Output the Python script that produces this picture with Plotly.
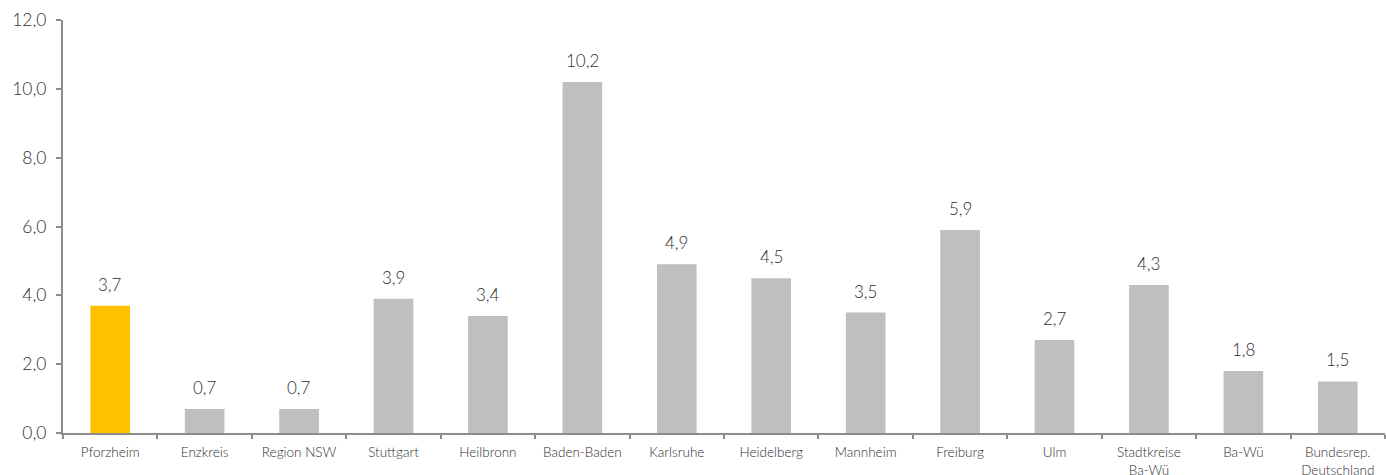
import plotly.graph_objects as go

categories = ["Pforzheim", "Enzkreis", "Region NSW", "Stuttgart", "Heilbronn",
              "Baden-Baden", "Karlsruhe", "Heidelberg", "Mannheim", "Freiburg",
              "Ulm", "Stadtkreise<br>Ba-Wü", "Ba-Wü", "Bundesrep.<br>Deutschland"]
values = [3.7, 0.7, 0.7, 3.9, 3.4, 10.2, 4.9, 4.5, 3.5, 5.9, 2.7, 4.3, 1.8, 1.5]
y_ticks = [0, 2, 4, 6, 8, 10, 12]
y_tick_labels = ["0,0", "2,0", "4,0", "6,0", "8,0", "10,0", "12,0"]

highlight = "#FFC000"
base = "#BFBFBF"
colors = [highlight if c == "Pforzheim" else base for c in categories]
labels = [f"{v:.1f}".replace(".", ",") for v in values]

font_family = "Lato, Open Sans, sans-serif"
text_color = "#2E2E2E"
axis_color = "#8C8C8C"

fig = go.Figure(go.Bar(
    x=categories, y=values, marker_color=colors, marker_line_width=0,
    hoverinfo="x+y",
))

# value labels sit a little above each bar
for cat, val, lab in zip(categories, values, labels):
    fig.add_annotation(
        x=cat, y=val, text=lab, showarrow=False,
        yanchor="bottom", yshift=9,
        font=dict(size=17, color=text_color, family=font_family, weight=300),
    )

fig.update_layout(
    width=1386, height=475,
    margin=dict(l=63, r=1, t=20, b=42, autoexpand=False),
    paper_bgcolor="white", plot_bgcolor="white",
    bargap=0.58, showlegend=False,
    font=dict(family=font_family, color=text_color, weight=300),
)
fig.update_xaxes(
    showline=True, linecolor=axis_color, linewidth=2,
    ticks="outside", tickson="boundaries", ticklen=4, tickcolor=axis_color, tickwidth=1.5,
    tickfont=dict(size=13.5, color=text_color, family=font_family, weight=300),
    ticklabelstandoff=6, automargin=False,
    showgrid=False,
)
fig.update_yaxes(
    range=[0, 12], tickvals=y_ticks, ticktext=y_tick_labels,
    showline=True, linecolor=axis_color, linewidth=2,
    ticks="outside", ticklen=5, tickcolor=axis_color, tickwidth=1.5,
    tickfont=dict(size=17.5, color=text_color, family=font_family, weight=300),
    ticklabelstandoff=6, automargin=False,
    showgrid=False, zeroline=False,
)

fig.write_html("out.html")
